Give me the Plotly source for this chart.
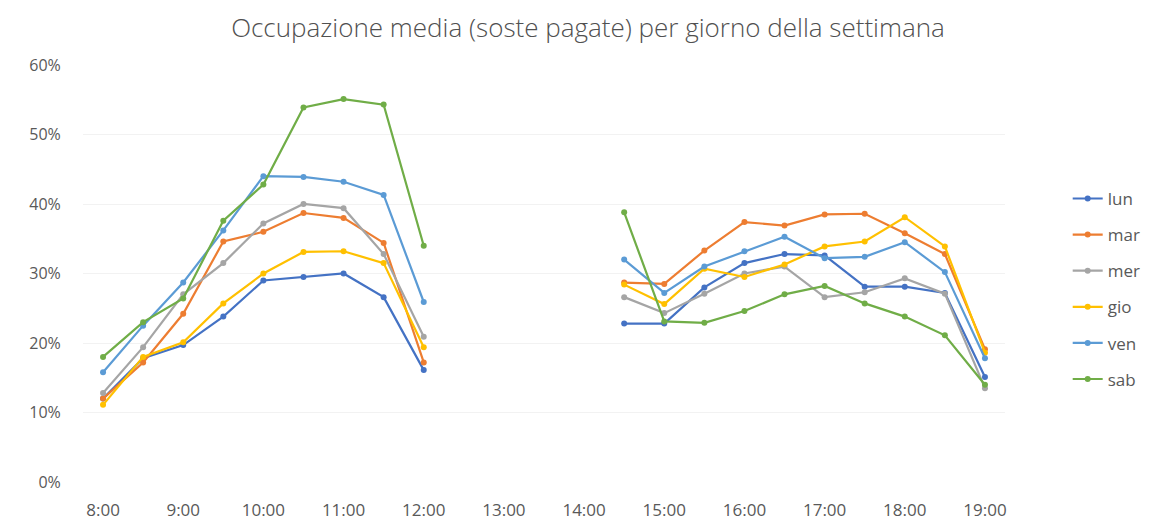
import plotly.graph_objects as go

times = [8.0, 8.5, 9.0, 9.5, 10.0, 10.5, 11.0, 11.5, 12.0, 12.5, 13.0, 13.5, 14.0,
         14.5, 15.0, 15.5, 16.0, 16.5, 17.0, 17.5, 18.0, 18.5, 19.0]
tick_vals = [8, 9, 10, 11, 12, 13, 14, 15, 16, 17, 18, 19]
tick_text = ["8:00", "9:00", "10:00", "11:00", "12:00", "13:00", "14:00",
             "15:00", "16:00", "17:00", "18:00", "19:00"]

N = None
lun = [12.0, 17.8, 19.7, 23.8, 29.0, 29.5, 30.0, 26.6, 16.1, N, N, N, N,
       22.8, 22.8, 28.0, 31.5, 32.8, 32.6, 28.1, 28.1, 27.2, 15.1]
mar = [12.0, 17.2, 24.2, 34.6, 36.0, 38.7, 38.0, 34.4, 17.2, N, N, N, N,
       28.7, 28.5, 33.3, 37.4, 36.9, 38.5, 38.6, 35.8, 32.8, 19.1]
mer = [12.8, 19.4, 27.0, 31.5, 37.2, 40.0, 39.4, 32.8, 20.9, N, N, N, N,
       26.6, 24.3, 27.1, 30.0, 31.0, 26.6, 27.3, 29.3, 27.1, 13.5]
gio = [11.1, 18.0, 20.1, 25.7, 30.0, 33.1, 33.2, 31.5, 19.4, N, N, N, N,
       28.4, 25.6, 30.7, 29.5, 31.3, 33.9, 34.6, 38.1, 33.9, 18.6]
ven = [15.8, 22.5, 28.7, 36.2, 44.0, 43.9, 43.2, 41.3, 25.9, N, N, N, N,
       32.0, 27.2, 31.0, 33.2, 35.3, 32.2, 32.4, 34.5, 30.2, 17.8]
sab = [18.0, 23.0, 26.4, 37.6, 42.8, 53.9, 55.1, 54.3, 34.0, N, N, N, N,
       38.8, 23.1, 22.9, 24.6, 27.0, 28.2, 25.7, 23.8, 21.1, 14.0]

names = ["lun", "mar", "mer", "gio", "ven", "sab"]
series = [lun, mar, mer, gio, ven, sab]
colors = ["#4472C4", "#ED7D31", "#A5A5A5", "#FFC000", "#5B9BD5", "#70AD47"]

FONT = "Open Sans, DejaVu Sans, sans-serif"

fig = go.Figure()
for name, vals, col in zip(names, series, colors):
    fig.add_trace(go.Scatter(
        x=times, y=[v / 100 if v is not None else None for v in vals],
        mode="lines+markers", name=name, legendgroup=name,
        line=dict(color=col, width=2.2),
        marker=dict(color=col, size=6, symbol="circle"),
        connectgaps=False,
    ))

fig.update_layout(
    width=1160, height=520,
    paper_bgcolor="white", plot_bgcolor="white",
    margin=dict(l=75, r=163, t=57, b=46),
    title=dict(text="Occupazione media (soste pagate) per giorno della settimana",
               x=0.5, xref="container", xanchor="center",
               y=1 - 20 / 520, yref="container", yanchor="middle",
               font=dict(family=FONT, size=26, color="#505050", weight=300)),
    font=dict(family=FONT, color="#595959"),
    legend=dict(x=1.068, xanchor="left", y=0.463, yanchor="middle",
                tracegroupgap=11, font=dict(size=17, color="#595959"),
                itemwidth=30),
    showlegend=True,
)
fig.update_xaxes(range=[7.75, 19.25], tickvals=tick_vals, ticktext=tick_text,
                 showgrid=False, zeroline=False, showline=False, automargin=False,
                 ticks="outside", ticklen=13, tickcolor="rgba(0,0,0,0)",
                 tickfont=dict(size=17, color="#595959"))
fig.update_yaxes(range=[0, 0.6], dtick=0.1, tickformat=".0%",
                 showgrid=True, gridcolor="#f2f2f2", zeroline=False, showline=False,
                 automargin=False,
                 ticks="outside", ticklen=18, tickcolor="rgba(0,0,0,0)",
                 tickfont=dict(size=16, color="#595959"))

fig.write_html("out.html")
